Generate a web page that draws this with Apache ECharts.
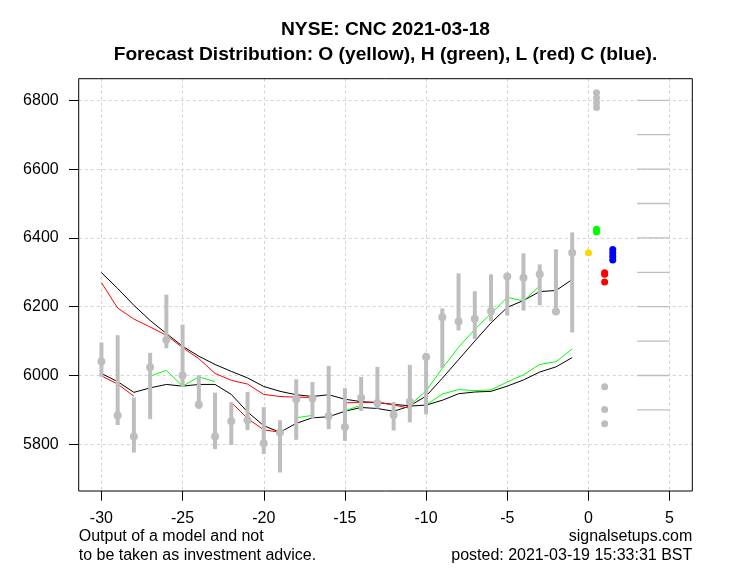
<!DOCTYPE html>
<html><head><meta charset="utf-8">
<script src="https://cdn.jsdelivr.net/npm/echarts@6/dist/echarts.min.js"></script>
<style>html,body{margin:0;padding:0;background:#fff}#c{width:733px;height:586px}</style>
</head><body><div id="c"></div>
<script>
// ---- data ----
const days = [-30,-29,-28,-27,-26,-25,-24,-23,-22,-21,-20,-19,-18,-17,-16,-15,-14,-13,-12,-11,-10,-9,-8,-7,-6,-5,-4,-3,-2,-1];
const highs  = [6096,6117,5936,6066,6235,6148,6001,5950,5922,5952,5908,5870,5989,5981,6028,5963,5996,6025,5923,6031,6066,6195,6297,6245,6294,6299,6355,6323,6367,6416];
const lows   = [5996,5856,5776,5873,6079,5967,5903,5786,5798,5841,5772,5718,5813,5875,5844,5810,5897,5904,5840,5864,5887,6022,6131,6106,6158,6174,6189,6204,6180,6125];
const closes = [6041,5884,5823,6024,6104,6000,5916,5823,5867,5870,5803,5834,5931,5933,5882,5850,5935,5920,5885,5924,6054,6169,6157,6165,6187,6288,6284,6294,6186,6357];
const upperBlack = [6299,6253,6204,6160,6122,6085,6056,6032,6012,5993,5968,5954,5944,5939,5944,5931,5924,5921,5916,5912,5940,5992,6046,6100,6153,6198,6218,6244,6247,6279];
const lowerBlack = [6006,5982,5951,5964,5974,5969,5974,5974,5945,5894,5854,5835,5861,5877,5880,5896,5907,5904,5896,5911,5914,5928,5947,5952,5954,5969,5987,6010,6025,6052];
const upperRed = [6270,6196,6164,6141,6117,6081,6049,6006,5986,5975,5945,5939,5937,5936,null,5921,5921,5923,5914,5905,null,null,null,null,null,null,null,null,null,null];
const lowerRed = [5999,5975,5940,null,null,null,null,null,5922,5875,5842,5835,null,null,null,null,null,null,null,null,null,null,null,null,null,null,null,null,null,null];
const upperGreen = [null,null,null,null,null,null,null,null,null,null,null,null,null,null,null,null,null,null,null,5914,5955,6021,6082,6134,6180,6227,6217,6260,null,null];
const lowerGreen = [null,null,null,5998,6015,5969,5996,5982,null,null,null,null,5877,5884,null,5897,5914,null,null,null,5914,5946,5959,5956,5958,5981,6002,6032,6040,6077];
const openX = 0, highX = 0.5, lowX = 1, closeX = 1.5;
const forecastOpen  = [6357];
const forecastHigh  = [6425,6421,6417];
const forecastLow   = [6299,6294,6272];
const forecastClose = [6366,6356,6346,6336];
const highOutliers  = [6822,6807,6793,6779];
const lowOutliers   = [5967,5901,5860];
const levelMarks = [5900,6000,6100,6200,6300,6400,6500,6600,6700,6800];
const levelFrom = 3, levelTo = 5;
const xTickLabels = [-30,-25,-20,-15,-10,-5,0,5];
const yTickLabels = [5800,6000,6200,6400,6600,6800];

// ---- chart ----
const FONT = '"Liberation Sans", Arial, sans-serif';
const GREY = '#bebebe';
const chart = echarts.init(document.getElementById('c'), null, {renderer:'canvas'});
const pair = (arr) => days.map((d,i) => [d, arr[i] == null ? '-' : arr[i]]);
const lineS = (arr, color) => ({type:'line', xAxisIndex:0, yAxisIndex:0, data: pair(arr), showSymbol:false, symbol:'none',
  connectNulls:false, lineStyle:{color, width:1}, itemStyle:{color}, z:3, silent:true});
const dots = (x, arr, color, size) => ({type:'scatter', xAxisIndex:0, yAxisIndex:0, data: arr.map(v=>[x,v]),
  symbol:'circle', symbolSize:size, itemStyle:{color, opacity:1}, z:6, silent:true});

const gridBox = {left:78.7, right:40.7, top:78.7, bottom:95};
const xMinTick = xTickLabels[0], xMaxTick = xTickLabels[xTickLabels.length-1];
const xPad = (xMaxTick - xMinTick) * 0.04;
const xMin = xMinTick - xPad, xMax = xMaxTick + xPad;
const pxPerX = (733 - gridBox.left - gridBox.right) / (xMax - xMin);
const yMin = 5664.2, yMax = 6862.8;
const pxPerY = (586 - gridBox.top - gridBox.bottom) / (yMax - yMin);
const yMinTick = yTickLabels[0], yMaxTick = yTickLabels[yTickLabels.length-1];

const option = {
  animation:false,
  backgroundColor:'#fff',
  grid:[
    {left:gridBox.left, right:gridBox.right, top:gridBox.top, bottom:gridBox.bottom, show:true, borderColor:'#000', borderWidth:1, backgroundColor:'transparent', z:5},
    {left:gridBox.left + (xMinTick - xMin)*pxPerX, right:gridBox.right + (xMax - xMaxTick)*pxPerX, top:gridBox.top, bottom:gridBox.bottom},
    {left:gridBox.left, right:gridBox.right, top:gridBox.top + (yMax - yMaxTick)*pxPerY, bottom:gridBox.bottom + (yMinTick - yMin)*pxPerY}
  ],
  xAxis:[
    {gridIndex:0, type:'value', min:xMin, max:xMax, show:false},
    {gridIndex:1, type:'value', min:xMinTick, max:xMaxTick, interval:5, position:'bottom',
      axisLine:{show:false}, axisTick:{show:true, inside:false, length:9.7, lineStyle:{color:'#000', width:1}},
      axisLabel:{show:true, margin:20, color:'#000', fontSize:16, fontFamily:FONT, formatter:v=>String(v)},
      splitLine:{show:true, lineStyle:{color:'#d3d3d3', type:[3,3], width:1}}},
    {gridIndex:2, type:'value', min:0, max:1, show:false}
  ],
  yAxis:[
    {gridIndex:0, type:'value', min:yMin, max:yMax, show:false},
    {gridIndex:1, type:'value', min:0, max:1, show:false},
    {gridIndex:2, type:'value', min:yMinTick, max:yMaxTick, interval:200, position:'left',
      axisLine:{show:false}, axisTick:{show:true, inside:false, length:9.7, lineStyle:{color:'#000', width:1}},
      axisLabel:{show:true, margin:20, color:'#000', fontSize:16, fontFamily:FONT, formatter:v=>String(v)},
      splitLine:{show:true, lineStyle:{color:'#d3d3d3', type:[3,3], width:1}}}
  ],
  series:[
    lineS(upperBlack, '#000000'),
    lineS(lowerBlack, '#000000'),
    lineS(upperRed, '#ff0000'),
    lineS(lowerRed, '#ff0000'),
    lineS(upperGreen, '#00ff00'),
    lineS(lowerGreen, '#00ff00'),
    {type:'custom', xAxisIndex:0, yAxisIndex:0, z:4, silent:true,
      data: days.map((d,i)=>[d, lows[i], highs[i]]),
      encode:{x:0, y:[1,2]},
      renderItem:(params, api)=>{
        const p1 = api.coord([api.value(0), api.value(1)]);
        const p2 = api.coord([api.value(0), api.value(2)]);
        return {type:'line', shape:{x1:p1[0], y1:p1[1], x2:p2[0], y2:p2[1]}, style:{stroke:GREY, lineWidth:4}};
      }},
    {type:'scatter', xAxisIndex:0, yAxisIndex:0, data: days.map((d,i)=>[d, closes[i]]), symbol:'circle', symbolSize:8,
      itemStyle:{color:GREY, opacity:1}, z:5, silent:true},
    {type:'custom', xAxisIndex:0, yAxisIndex:0, z:4, silent:true,
      data: levelMarks.map(v=>[levelFrom, levelTo, v]),
      encode:{x:[0,1], y:2},
      renderItem:(params, api)=>{
        const p1 = api.coord([api.value(0), api.value(2)]);
        const p2 = api.coord([api.value(1), api.value(2)]);
        return {type:'line', shape:{x1:p1[0], y1:p1[1], x2:p2[0], y2:p2[1]}, style:{stroke:GREY, lineWidth:1.3}};
      }},
    dots(highX, highOutliers, GREY, 7),
    dots(lowX, lowOutliers, GREY, 7),
    dots(openX, forecastOpen, '#ffd700', 7),
    dots(highX, forecastHigh, '#00ff00', 7),
    dots(lowX, forecastLow, '#ff0000', 7),
    dots(closeX, forecastClose, '#0000ff', 7)
  ],
  graphic:[
    {type:'text', x:385.5, y:30, style:{text:'NYSE: CNC 2021-03-18', fontSize:19.2, fontWeight:'bold', fontFamily:FONT, fill:'#000', align:'center', verticalAlign:'middle'}},
    {type:'text', x:385.5, y:54.5, style:{text:'Forecast Distribution: O (yellow), H (green), L (red) C (blue).', fontSize:19.2, fontWeight:'bold', fontFamily:FONT, fill:'#000', align:'center', verticalAlign:'middle'}},
    {type:'text', x:78.7, y:537, style:{text:'Output of a model and not', fontSize:16, fontFamily:FONT, fill:'#000', align:'left', verticalAlign:'middle'}},
    {type:'text', x:78.7, y:556, style:{text:'to be taken as investment advice.', fontSize:16, fontFamily:FONT, fill:'#000', align:'left', verticalAlign:'middle'}},
    {type:'text', x:692.3, y:537, style:{text:'signalsetups.com', fontSize:16, fontFamily:FONT, fill:'#000', align:'right', verticalAlign:'middle'}},
    {type:'text', x:692.3, y:556, style:{text:'posted: 2021-03-19 15:33:31 BST', fontSize:16, fontFamily:FONT, fill:'#000', align:'right', verticalAlign:'middle'}}
  ]
};
chart.setOption(option);
</script>
</body></html>
